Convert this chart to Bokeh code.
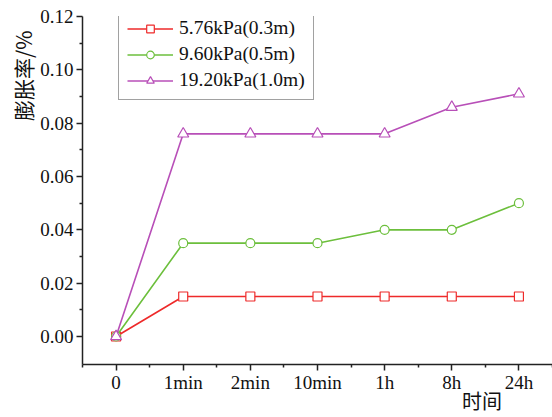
import math
from bokeh.plotting import figure
from bokeh.models import FixedTicker, Legend, LegendItem, Title, LinearAxis
from bokeh.embed import file_html
from bokeh.resources import INLINE

categories = ["0", "1min", "2min", "10min", "1h", "8h", "24h"]
s1_label = "5.76kPa(0.3m)"
s2_label = "9.60kPa(0.5m)"
s3_label = "19.20kPa(1.0m)"
s1 = [0.0, 0.015, 0.015, 0.015, 0.015, 0.015, 0.015]
s2 = [0.0, 0.035, 0.035, 0.035, 0.040, 0.040, 0.050]
s3 = [0.0, 0.076, 0.076, 0.076, 0.076, 0.086, 0.091]
y_ticks = [0.0, 0.02, 0.04, 0.06, 0.08, 0.10, 0.12]
y_label = "膨胀率/%"
x_label = "时间"
x_label_pos = 5.45  # where the axis title sits along the x axis

xs = list(range(len(categories)))
SERIF = "Liberation Serif"
CJK = "Noto Sans CJK SC"

p = figure(width=552, height=417, output_backend="svg", toolbar_location=None,
           x_range=(-0.5, 6.5), y_range=(-0.0105, 0.12),
           min_border_left=82, min_border_right=0, min_border_top=16, min_border_bottom=53)
p.outline_line_color = None
p.xgrid.visible = False
p.ygrid.visible = False
p.background_fill_color = "white"
p.border_fill_color = "white"

p.xaxis.ticker = FixedTicker(ticks=xs, minor_ticks=[i + 0.5 for i in range(-1, 7)])
p.xaxis.major_label_overrides = {i: c for i, c in enumerate(categories)}
p.yaxis.ticker = FixedTicker(ticks=y_ticks, minor_ticks=[0.01, 0.03, 0.05, 0.07, 0.09, 0.11])
p.yaxis.major_label_overrides = {v: f"{v:.2f}" for v in y_ticks}

for ax in (p.xaxis[0], p.yaxis[0]):
    ax.axis_line_color = "#222222"
    ax.axis_line_width = 1.5
    ax.major_tick_line_color = "#222222"
    ax.major_tick_line_width = 1.5
    ax.minor_tick_line_color = "#222222"
    ax.minor_tick_line_width = 1.5
    ax.major_tick_out = 6
    ax.major_tick_in = 0
    ax.minor_tick_out = 3
    ax.minor_tick_in = 0
    ax.major_label_text_font = SERIF
    ax.major_label_text_font_size = "19px"
    ax.major_label_text_color = "#111111"
p.xaxis.major_label_standoff = 1
p.yaxis.major_label_standoff = 3

# x-axis title as a secondary, line-less axis below the main one
xt = LinearAxis(ticker=FixedTicker(ticks=[x_label_pos], minor_ticks=[]),
                major_label_overrides={x_label_pos: x_label},
                axis_line_color=None, major_tick_line_color=None, minor_tick_line_color=None,
                major_tick_out=0, major_tick_in=0, minor_tick_out=0, minor_tick_in=0,
                major_label_standoff=-10, major_label_text_font=CJK,
                major_label_text_font_size="20px", major_label_text_color="#111111")
p.add_layout(xt, "below")

colors = ["#ee2a2a", "#6cbf3c", "#b84fb8"]
series = [s1, s2, s3]
markers = ["square", "circle", "triangle"]
sizes = [9, 9, 11]
labels = [s1_label, s2_label, s3_label]
items = []
for ys, c, m, sz, lab in zip(series, colors, markers, sizes, labels):
    r1 = p.line(xs, ys, line_color=c, line_width=1.6)
    r2 = p.scatter(xs, ys, marker=m, size=sz, line_color=c, fill_color="white", line_width=1.2)
    items.append(LegendItem(label=lab, renderers=[r1, r2]))

leg = Legend(items=items, location=(36, 264), border_line_color="#444444", border_line_width=1.2,
             label_text_font=SERIF, label_text_font_size="19.5px", label_text_color="#111111",
             glyph_width=46, glyph_height=19, label_height=19, spacing=4, padding=8,
             label_standoff=6, margin=0, background_fill_alpha=1.0)
p.add_layout(leg)

p.add_layout(Title(text=y_label, align="right", offset=14, text_font=CJK,
                   text_font_size="21px", text_font_style="normal", text_color="#111111",
                   standoff=0), "left")

open("out.html", "w").write(file_html(p, INLINE))
